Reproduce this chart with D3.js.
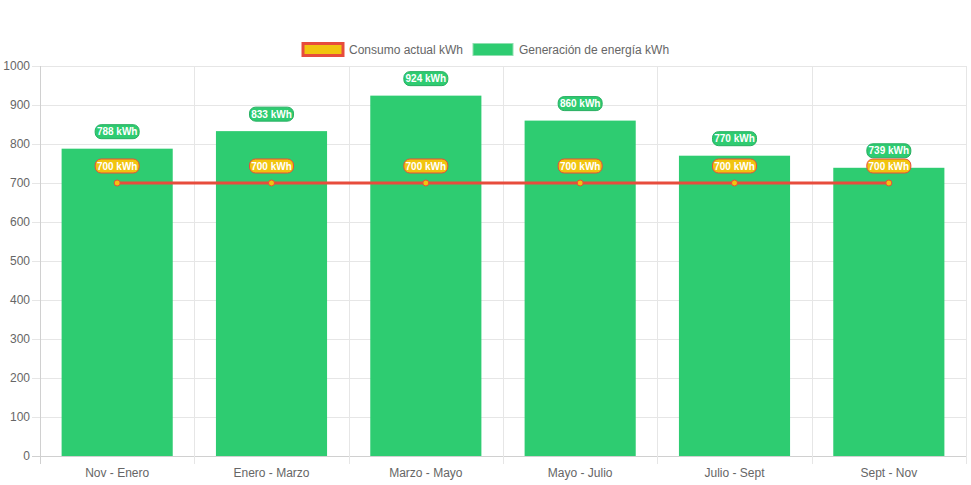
<!DOCTYPE html>
<meta charset="utf-8">
<style>
body { margin: 0; background: #fff; }
text { font-family: "Liberation Sans", Arial, sans-serif; }
</style>
<body>
<script src="https://d3js.org/d3.v7.min.js"></script>
<script>
var periods = ["Nov - Enero", "Enero - Marzo", "Marzo - Mayo", "Mayo - Julio", "Julio - Sept", "Sept - Nov"];
var generacion = [788, 833, 924, 860, 770, 739];
var consumo = [700, 700, 700, 700, 700, 700];
var yTicks = [0, 100, 200, 300, 400, 500, 600, 700, 800, 900, 1000];

var width = 971, height = 485;
var plotLeft = 40, plotRight = 966, plotTop = 66, plotBottom = 456;

var svg = d3.select("body").append("svg")
    .attr("width", width)
    .attr("height", height);

var x = d3.scaleBand().domain(periods).range([plotLeft, plotRight]);
var y = d3.scaleLinear().domain([0, 1000]).range([plotBottom, plotTop]);

// grid
svg.append("g").selectAll("line")
    .data(yTicks)
    .enter().append("line")
    .attr("x1", plotLeft - 8).attr("x2", plotRight)
    .attr("y1", d => y(d) + 0.5).attr("y2", d => y(d) + 0.5)
    .attr("stroke", d => d === 0 ? "#d0d0d0" : "#e6e6e6");

var xEdges = periods.map(p => x(p)).concat([plotRight]);
svg.append("g").selectAll("line")
    .data(xEdges)
    .enter().append("line")
    .attr("x1", d => Math.round(d) + 0.5).attr("x2", d => Math.round(d) + 0.5)
    .attr("y1", plotTop).attr("y2", plotBottom + 8)
    .attr("stroke", (d, i) => i === 0 ? "#d0d0d0" : "#e6e6e6");

// y labels
svg.append("g").selectAll("text")
    .data(yTicks)
    .enter().append("text")
    .attr("x", plotLeft - 10)
    .attr("y", d => y(d))
    .attr("dy", "0.35em")
    .attr("text-anchor", "end")
    .attr("font-size", 12)
    .attr("fill", "#666")
    .text(d => d);

// x labels
svg.append("g").selectAll("text")
    .data(periods)
    .enter().append("text")
    .attr("x", d => x(d) + x.bandwidth() / 2)
    .attr("y", plotBottom + 17)
    .attr("dy", "0.35em")
    .attr("text-anchor", "middle")
    .attr("font-size", 12)
    .attr("fill", "#666")
    .text(d => d);

// bars
var barW = x.bandwidth() * 0.72;
svg.append("g").selectAll("rect")
    .data(generacion)
    .enter().append("rect")
    .attr("x", (d, i) => x(periods[i]) + (x.bandwidth() - barW) / 2)
    .attr("y", d => y(d))
    .attr("width", barW)
    .attr("height", d => plotBottom - y(d))
    .attr("fill", "#2ecc71");

// line
var cx = (d, i) => x(periods[i]) + x.bandwidth() / 2;
var line = d3.line().x(cx).y(d => y(d));
svg.append("path")
    .datum(consumo)
    .attr("d", line)
    .attr("fill", "none")
    .attr("stroke", "#e74c3c")
    .attr("stroke-width", 3);

svg.append("g").selectAll("circle")
    .data(consumo)
    .enter().append("circle")
    .attr("cx", cx)
    .attr("cy", d => y(d))
    .attr("r", 3)
    .attr("fill", "#f1c40f")
    .attr("stroke", "#e74c3c")
    .attr("stroke-width", 1);

// data labels
function labels(data, fill, stroke) {
  var g = svg.append("g").selectAll("g")
      .data(data)
      .enter().append("g")
      .attr("transform", (d, i) => "translate(" + cx(d, i) + "," + (y(d) - 17) + ")");
  g.append("rect")
      .attr("x", -22).attr("y", -7)
      .attr("width", 44).attr("height", 14)
      .attr("rx", 6)
      .attr("fill", fill)
      .attr("stroke", stroke)
      .attr("stroke-width", 1);
  g.append("text")
      .attr("text-anchor", "middle")
      .attr("dy", "0.35em")
      .attr("font-size", 10)
      .attr("font-weight", "bold")
      .attr("fill", "#fff")
      .text(d => d + " kWh");
}
labels(generacion, "#2ecc71", "#27ae60");
labels(consumo, "#f1c40f", "#e74c3c");

// legend
var legend = svg.append("g");
legend.append("rect")
    .attr("x", 303).attr("y", 43.5)
    .attr("width", 40).attr("height", 12)
    .attr("fill", "#f1c40f")
    .attr("stroke", "#e74c3c")
    .attr("stroke-width", 3);
legend.append("text")
    .attr("x", 349).attr("y", 49.5)
    .attr("dy", "0.35em")
    .attr("font-size", 12)
    .attr("fill", "#666")
    .text("Consumo actual kWh");
legend.append("rect")
    .attr("x", 473).attr("y", 43.5)
    .attr("width", 40).attr("height", 12)
    .attr("fill", "#2ecc71")
    .attr("stroke", "#8fe0b0")
    .attr("stroke-width", 1);
legend.append("text")
    .attr("x", 519).attr("y", 49.5)
    .attr("dy", "0.35em")
    .attr("font-size", 12)
    .attr("fill", "#666")
    .text("Generación de energía kWh");
</script>
</body>
</html>
